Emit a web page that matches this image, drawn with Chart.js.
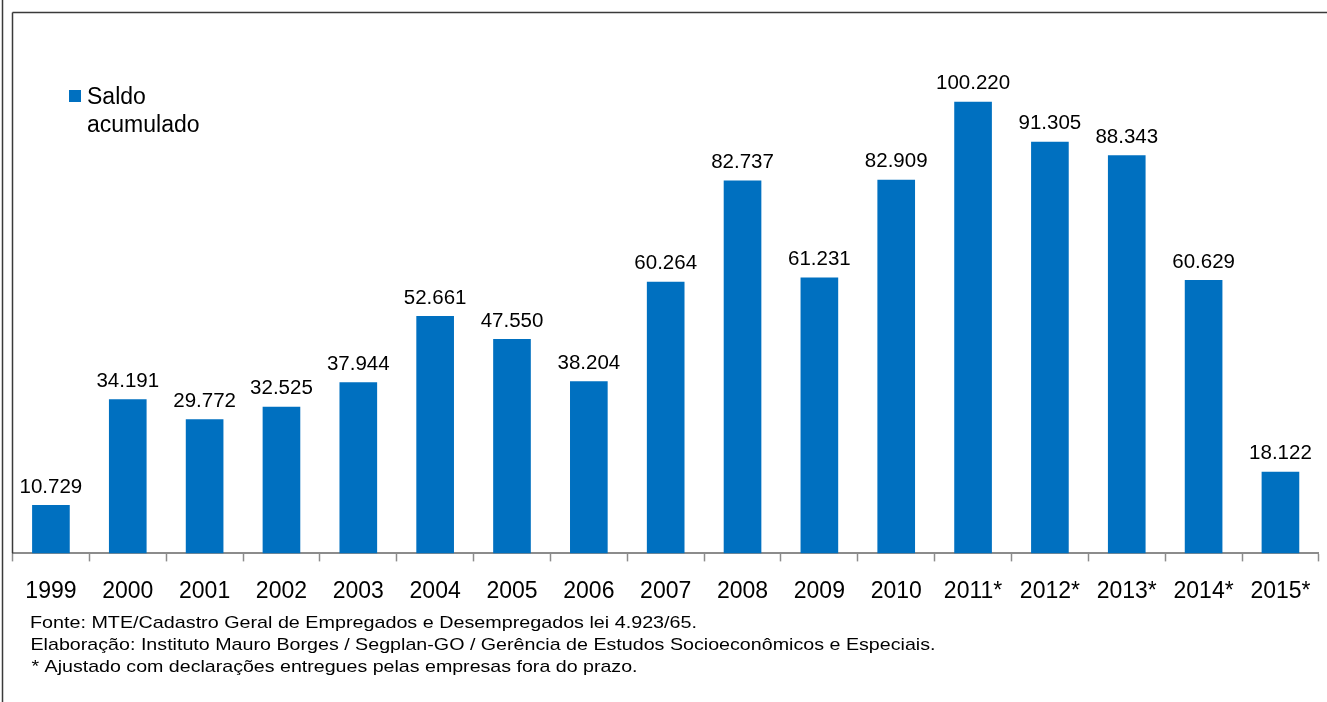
<!DOCTYPE html>
<html>
<head>
<meta charset="utf-8">
<script src="https://cdn.jsdelivr.net/npm/chart.js@4.4.1/dist/chart.umd.min.js"></script>
<style>
  html, body { margin: 0; padding: 0; background: #fff; }
  #wrap { position: relative; width: 1327px; height: 702px; }
</style>
</head>
<body>
<div id="wrap"><canvas id="chart"></canvas></div>
<script>
// dados (saldo acumulado por ano)
const anos = ["1999", "2000", "2001", "2002", "2003", "2004", "2005", "2006", "2007",
              "2008", "2009", "2010", "2011*", "2012*", "2013*", "2014*", "2015*"];
const saldo = [10729, 34191, 29772, 32525, 37944, 52661, 47550, 38204, 60264,
               82737, 61231, 82909, 100220, 91305, 88343, 60629, 18122];
const legenda = ["Saldo", "acumulado"];
const notas = [
    "Fonte: MTE/Cadastro Geral de Empregados e Desempregados lei 4.923/65.",
    "Elaboração: Instituto Mauro Borges / Segplan-GO / Gerência de Estudos Socioeconômicos e Especiais.",
    "* Ajustado com declarações entregues pelas empresas fora do prazo."
];

const azul = "#0070C0";
const fonte = "'Liberation Sans', Arial, sans-serif";

function formatar(n) {
    return String(n).replace(/\B(?=(\d{3})+(?!\d))/g, ".");
}

// rotulos, legenda, molduras e notas
const extras = {
    id: "extras",
    afterDatasetsDraw(chart) {
        const ctx = chart.ctx;
        const area = chart.chartArea;
        ctx.save();

        // valores acima das barras
        ctx.fillStyle = "#000";
        ctx.font = "20.5px " + fonte;
        ctx.textAlign = "center";
        ctx.textBaseline = "alphabetic";
        chart.getDatasetMeta(0).data.forEach((bar, i) => {
            ctx.fillText(formatar(saldo[i]), bar.x, bar.y - 12.5);
        });

        // legenda
        ctx.fillStyle = azul;
        ctx.fillRect(69, 90, 12, 12);
        ctx.fillStyle = "#000";
        ctx.textAlign = "left";
        ctx.font = "23px " + fonte;
        ctx.fillText(legenda[0], 87, 104);
        ctx.fillText(legenda[1], 87, 132);

        // molduras
        ctx.strokeStyle = "#3a3a3a";
        ctx.lineWidth = 1.5;
        ctx.beginPath();
        ctx.moveTo(2.5, 0);
        ctx.lineTo(2.5, 702);
        ctx.moveTo(12.5, 12.5);
        ctx.lineTo(12.5, area.bottom);
        ctx.moveTo(12.5, 12.5);
        ctx.lineTo(1327, 12.5);
        ctx.stroke();

        // notas (esticadas na horizontal para a largura do original)
        ctx.font = "17px " + fonte;
        const larguras = [667, 905, 606];
        const xs = [30, 30.5, 31.5];
        const ys = [627.5, 650, 672];
        notas.forEach((t, i) => {
            const w = ctx.measureText(t).width;
            ctx.save();
            ctx.translate(xs[i], ys[i]);
            ctx.scale(larguras[i] / w, 1);
            ctx.fillText(t, 0, 0);
            ctx.restore();
        });

        ctx.restore();
    }
};

const ctx = document.getElementById("chart").getContext("2d");
new Chart(ctx, {
    type: "bar",
    data: {
        labels: anos,
        datasets: [{
            label: legenda.join(" "),
            data: saldo,
            backgroundColor: azul,
            borderWidth: 0,
            categoryPercentage: 1,
            barPercentage: 0.49
        }]
    },
    options: {
        responsive: true,
        maintainAspectRatio: false,
        animation: false,
        layout: { padding: { left: 12.5, top: 12.5, right: 0, bottom: 80 } },
        plugins: {
            legend: { display: false },
            tooltip: { enabled: false }
        },
        scales: {
            x: {
                grid: {
                    display: true,
                    drawOnChartArea: false,
                    tickLength: 8,
                    tickColor: "#8c8c8c",
                    tickWidth: 1.5
                },
                border: { display: true, color: "#8c8c8c", width: 2 },
                ticks: {
                    color: "#000",
                    font: { family: fonte, size: 23 },
                    padding: 16.5,
                    maxRotation: 0,
                    autoSkip: false
                }
            },
            y: {
                display: false,
                min: 0,
                max: 120000
            }
        }
    },
    plugins: [extras]
});
</script>
</body>
</html>
